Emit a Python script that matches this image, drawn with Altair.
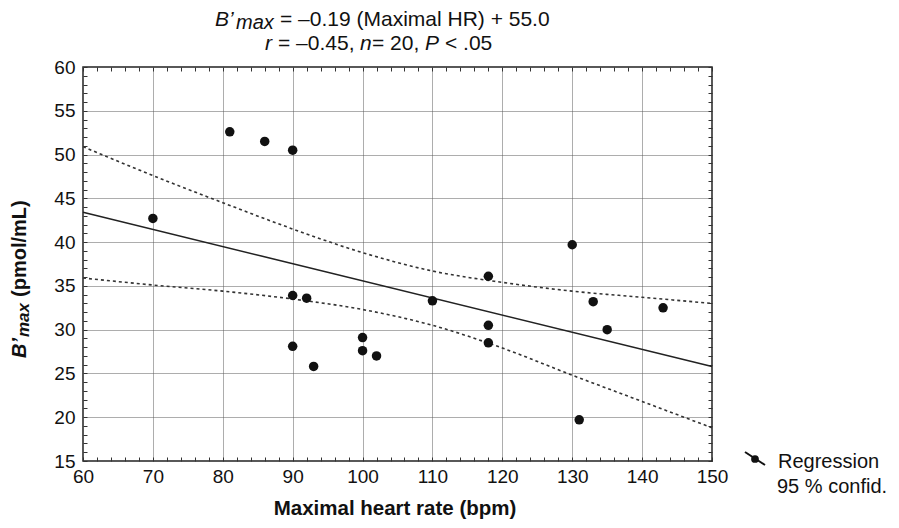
import altair as alt
import pandas as pd

# ---------------- data ----------------
hr = [70, 81, 86, 90, 90, 92, 90, 93, 100, 100, 102, 110, 118, 118, 118, 130, 131, 133, 135, 143]
bmax = [42.7, 52.6, 51.5, 50.5, 33.9, 33.6, 28.1, 25.8, 29.1, 27.6, 27.0, 33.3, 36.1, 30.5, 28.5,
        39.7, 19.7, 33.2, 30.0, 32.5]

reg_hr = [60, 150]
reg_bmax = [43.4, 25.8]

ci_hr = [60, 70, 80, 90, 100, 110, 120, 130, 140, 150]
ci_upper = [50.9, 47.6, 44.5, 41.5, 38.8, 36.7, 35.4, 34.4, 33.7, 33.0]
ci_lower = [35.9, 35.1, 34.4, 33.5, 32.3, 30.5, 27.9, 24.8, 21.8, 18.8]

x_ticks = list(range(60, 151, 10))
y_ticks = list(range(15, 61, 5))
x_minor = list(range(60, 151, 2))
y_minor = list(range(15, 61, 1))

legend_labels = ["Regression", "95 % confid."]
x_title = "Maximal heart rate (bpm)"

# ---------------- layout ----------------
FONT = "Liberation Sans"
W, H = 629, 394
PAD_L, PAD_T = 75, 59
X0, Y0 = 8 + PAD_L, 8 + PAD_T  # page position of plot origin
INK = "#111111"

xscale = alt.Scale(domain=[60, 150], nice=False, zero=False)
yscale = alt.Scale(domain=[15, 60], nice=False, zero=False)


def main_axis(orient, values, pad):
    return alt.Axis(orient=orient, values=values, title=None, grid=True,
                    gridColor="#5a5a5a", gridDash=[1, 1], gridWidth=1,
                    ticks=False, domain=False, labelFont=FONT, labelFontSize=19,
                    labelColor=INK, labelPadding=pad, labelFlush=False,
                    labelOverlap=False)


def minor_axis(orient, values):
    return alt.Axis(orient=orient, values=values, title=None, grid=False,
                    labels=False, domain=False, ticks=True, tickSize=4,
                    tickColor="#333333", tickWidth=1, offset=-4)


pts_df = pd.DataFrame({"hr": hr, "bmax": bmax})
reg_df = pd.DataFrame({"hr": reg_hr, "bmax": reg_bmax})
up_df = pd.DataFrame({"hr": ci_hr, "bmax": ci_upper})
lo_df = pd.DataFrame({"hr": ci_hr, "bmax": ci_lower})

lower = alt.Chart(lo_df).mark_line(color="#333333", strokeWidth=1.6, strokeDash=[3, 3],
                                   interpolate="monotone").encode(
    x=alt.X("hr:Q", scale=xscale, axis=None),
    y=alt.Y("bmax:Q", scale=yscale, axis=None))

upper = alt.Chart(up_df).mark_line(color="#333333", strokeWidth=1.6, strokeDash=[3, 3],
                                   interpolate="monotone").encode(
    x=alt.X("hr:Q", scale=xscale, axis=minor_axis("top", x_minor)),
    y=alt.Y("bmax:Q", scale=yscale, axis=minor_axis("right", y_minor)))

reg = alt.Chart(reg_df).mark_line(color="#222222", strokeWidth=1.6).encode(
    x=alt.X("hr:Q", scale=xscale, axis=minor_axis("bottom", x_minor)),
    y=alt.Y("bmax:Q", scale=yscale, axis=minor_axis("left", y_minor)))

points = alt.Chart(pts_df).mark_circle(size=90, color=INK, opacity=1).encode(
    x=alt.X("hr:Q", scale=xscale, axis=main_axis("bottom", x_ticks, 6)),
    y=alt.Y("bmax:Q", scale=yscale, axis=main_axis("left", y_ticks, 8)))


def label(text, px, py, size, style="normal", weight="normal", angle=0, align="left"):
    return alt.Chart(pd.DataFrame({"t": [text]})).mark_text(
        align=align, baseline="alphabetic", font=FONT, fontSize=size,
        fontStyle=style, fontWeight=weight, angle=angle, color=INK
    ).encode(x=alt.value(px - X0), y=alt.value(py - Y0), text="t:N")


texts = [
    # title line 1
    label("B\u2019", 215, 26, 21, style="italic"),
    label("max", 236, 28.5, 20, style="italic"),
    label("= \u20130.19 (Maximal HR) + 55.0", 280, 26, 21),
    # title line 2
    label("r", 265, 50, 21, style="italic"),
    label("= \u20130.45,", 278, 50, 21),
    label("n", 360, 50, 21, style="italic"),
    label("= 20,", 372, 50, 21),
    label("P", 425, 50, 21, style="italic"),
    label("< .05", 445, 50, 21),
    # x title
    label(x_title, 395, 515, 20.5, weight="bold", align="center"),
    # y title (rotated)
    label("B\u2019", 26, 358, 20, style="italic", weight="bold", angle=270),
    label("max", 29, 337, 17, style="italic", weight="bold", angle=270),
    label("(pmol/mL)", 26, 297, 20, weight="bold", angle=270),
    # legend
    label(legend_labels[0], 778, 468, 20),
    label(legend_labels[1], 777, 493, 20),
]

one = pd.DataFrame({"a": [0]})
leg_line = alt.Chart(one).mark_rule(color=INK, strokeWidth=2).encode(
    x=alt.value(745 - X0), x2=alt.value(765 - X0),
    y=alt.value(452 - Y0), y2=alt.value(465 - Y0))
leg_dot = alt.Chart(one).mark_circle(size=60, color=INK, opacity=1).encode(
    x=alt.value(755 - X0), y=alt.value(459 - Y0))

chart = alt.layer(lower, upper, reg, points, leg_line, leg_dot, *texts).resolve_axis(
    x="independent", y="independent"
).properties(
    width=W, height=H,
    autosize=alt.AutoSizeParams(type="none"),
    padding={"left": PAD_L, "top": PAD_T, "right": 883 - PAD_L - W, "bottom": 512 - PAD_T - H},
    background="white",
).configure_view(stroke="#222222", strokeWidth=1.5)

chart.save("out.html", embed_options={"renderer": "svg", "actions": False})
